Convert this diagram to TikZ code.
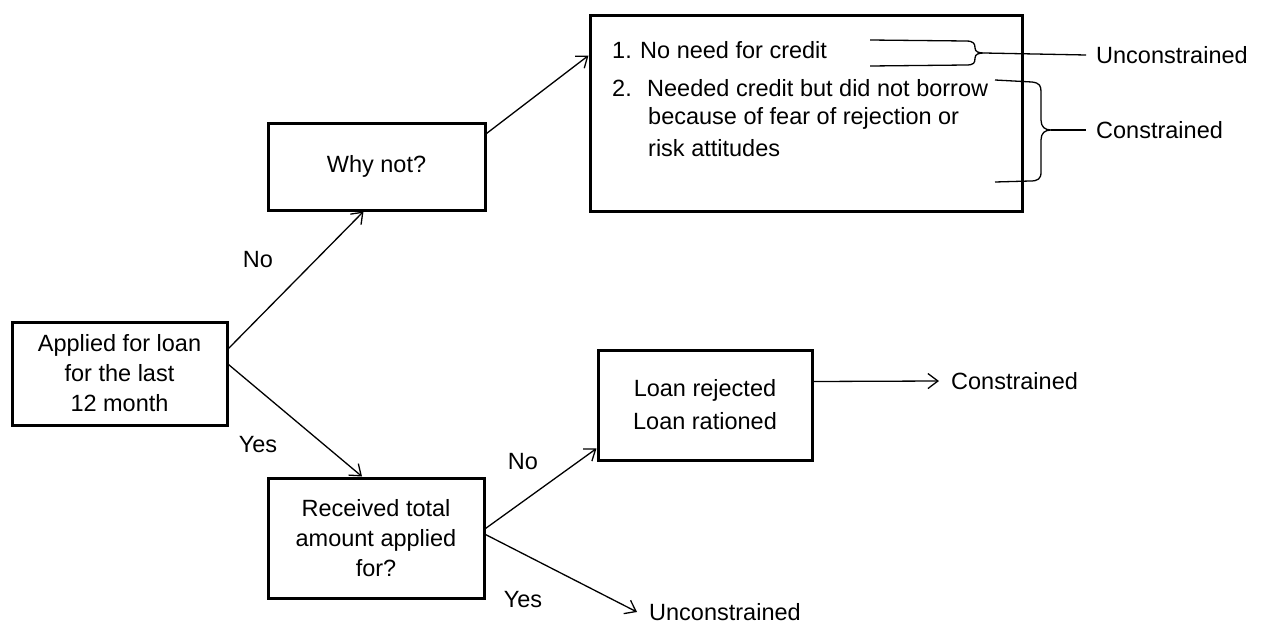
\documentclass[tikz,border=0pt]{standalone}
\usepackage{fontspec}
\setmainfont{Liberation Sans}
\usetikzlibrary{arrows.meta}
\begin{document}
\begin{tikzpicture}[x=1pt,y=-1pt,
  every node/.style={font=\fontsize{23.5}{30}\selectfont, inner sep=0pt},
  box/.style={draw, line width=3pt, align=center},
  conn/.style={line width=1.3pt, -{Straight Barb[length=10pt,width=15pt,line width=1.3pt]}},
  plain/.style={line width=1.3pt},
  lbl/.style={anchor=west}]
\useasboundingbox (0,0) rectangle (1262,624);
% boxes
\node[box, minimum width=215pt, minimum height=103pt] (appl) at (119.5,373.5) {Applied for loan\\for the last\\12 month};
\node[box, minimum width=217pt, minimum height=87pt] (why) at (376.5,166.5) {Why not?};
\node[box, minimum width=432pt, minimum height=196pt] (top) at (806,113) {};
\node[box, minimum width=216pt, minimum height=120pt] (rec) at (376,538) {Received total\\amount applied\\for?};
\node[box, minimum width=214pt, minimum height=110pt, font=\fontsize{23.5}{33}\selectfont] (loan) at (705,405) {Loan rejected\\Loan rationed};
% text inside the top box
\node[lbl] (t1) at (612,50) {\makebox[28pt][l]{1.}No need for credit};
\node[lbl] (t2) at (612,88) {\makebox[35pt][l]{2.}Needed credit but did not borrow};
\node[lbl] (t3) at (648,118) {because of fear of rejection or};
\node[lbl] (t4) at (648,148) {risk attitudes};
% outcomes
\node[lbl] (u1) at (1096,55) {Unconstrained};
\node[lbl] (c1) at (1096,130) {Constrained};
\node[lbl] (c2) at (951,381) {Constrained};
\node[lbl] (u2) at (649,612) {Unconstrained};
% branch labels
\node (no1) at (258,260) {No};
\node (yes1) at (258,445) {Yes};
\node (no2) at (523,462) {No};
\node (yes2) at (523,600) {Yes};
% connectors
\draw[conn] ([yshift=-28pt]appl.north east) -- ([xshift=-13pt]why.south);
\draw[conn] ([yshift=-44pt]appl.north east) -- ([xshift=-14pt]rec.north);
\draw[conn] ([yshift=-12pt]why.north east) -- ([yshift=-42pt]top.north west);
\draw[conn] ([yshift=-52pt]rec.north east) -- ([yshift=13pt]loan.south west);
\draw[conn] ([yshift=-58pt]rec.north east) -- ([xshift=-12pt]u2.west);
\draw[conn] ([yshift=-33pt]loan.north east) -- ([xshift=-12pt]c2.west);
% braces
\coordinate (b1) at (984,53);
\coordinate (b2) at (1051,130);
\draw[plain] (870,40) -- (966,41) .. controls (974,41) and (975,44) .. (975,48)
  .. controls (975,52) and (979,53) .. (b1)
  .. controls (979,53) and (975,54) .. (975,58)
  .. controls (975,63) and (974,65) .. (966,65) -- (870,66);
\draw[plain] (b1) -- ([xshift=-10pt]u1.west);
\draw[plain] (995,80) -- (1032,82) .. controls (1040,83) and (1041,86) .. (1041,92)
  -- (1041,120) .. controls (1041,127) and (1045,130) .. (b2)
  .. controls (1045,130) and (1041,133) .. (1041,140)
  -- (1041,172) .. controls (1041,179) and (1038,181) .. (1030,181) -- (995,182);
\draw[plain] (b2) -- ([xshift=-10pt]c1.west);
\end{tikzpicture}
\end{document}
